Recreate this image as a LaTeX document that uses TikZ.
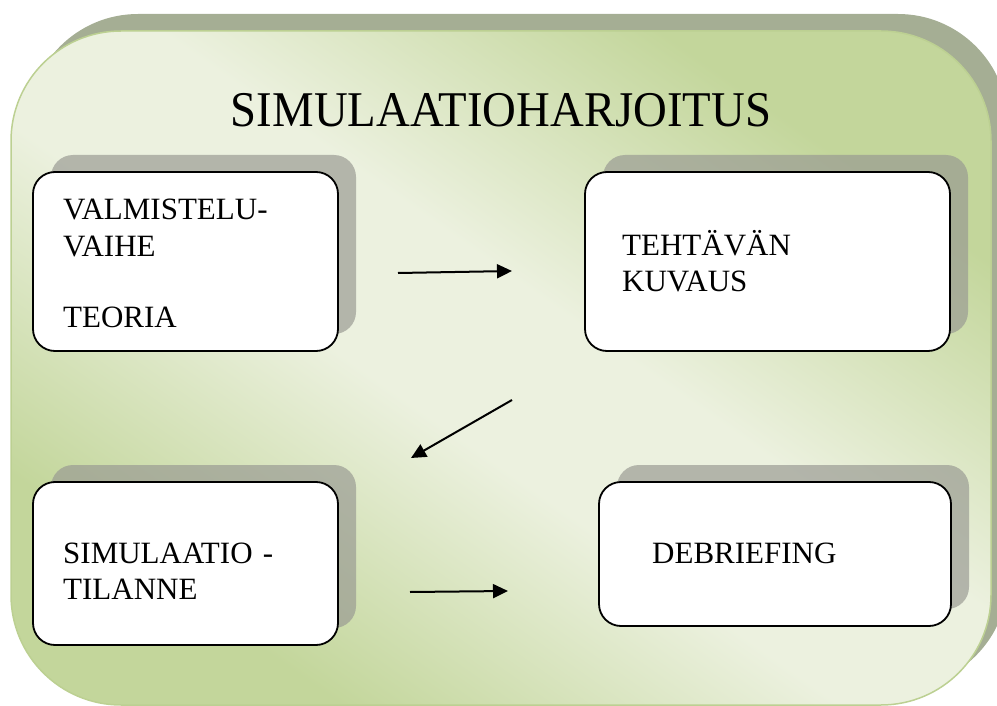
\documentclass[tikz,border=0pt]{standalone}
\usepackage{graphicx}
\usepackage{fontspec}
\setmainfont{Liberation Serif}
\usetikzlibrary{shadows,arrows.meta}
\definecolor{dkgreen}{RGB}{195,214,155}
\definecolor{ltgreen}{RGB}{236,241,223}
\definecolor{outershadow}{RGB}{165,174,148}
\definecolor{edgegreen}{RGB}{188,208,146}
\definecolor{boxshadow}{RGB}{152,153,146}
\pgfdeclareverticalshading{panelshade}{100bp}{color(0bp)=(dkgreen); color(27bp)=(dkgreen); color(45bp)=(ltgreen); color(55bp)=(ltgreen); color(73bp)=(dkgreen); color(100bp)=(dkgreen)}
\begin{document}
\begin{tikzpicture}[x=1pt,y=-1pt,
  panel/.style={rounded corners=110pt, minimum width=980pt, minimum height=674pt, inner sep=0pt,
    shading=panelshade, shading angle=-35, draw=edgegreen, line width=1.5pt,
    drop shadow={shadow xshift=17pt, shadow yshift=17pt, fill=outershadow, opacity=1}},
  stepbox/.style={draw=black, line width=1.8pt, fill=white, rounded corners=22pt, inner sep=0pt,
    drop shadow={shadow xshift=18pt, shadow yshift=17pt, fill=boxshadow, opacity=0.68}},
  boxtext/.style={anchor=base west, inner sep=0pt, align=left, text width=280pt,
    font=\fontsize{31}{36}\selectfont},
  flow/.style={line width=2pt, -{Triangle[length=15pt,width=14pt]}}]
\useasboundingbox (0,0) rectangle (997,706);
\clip (0,0) rectangle (997,706);
\node[panel] (frame) at (501,368) {};
\node[anchor=base, inner sep=0pt, font=\fontsize{50}{60}\selectfont] (title) at (501,127)
  {\scalebox{0.935}[1]{SIMULAATIOHARJOITUS}};
\node[stepbox, minimum width=305pt, minimum height=179pt] (b1) at (185.5,261.5) {};
\node[stepbox, minimum width=365pt, minimum height=179pt] (b2) at (767.5,261.5) {};
\node[stepbox, minimum width=305pt, minimum height=163pt] (b3) at (185.5,563.5) {};
\node[stepbox, minimum width=352pt, minimum height=144pt] (b4) at (775,554) {};
\node[boxtext] (t1) at (63,220) {VALMISTELU-\\VAIHE\\[36pt]TEORIA};
\node[boxtext] (t2) at (622,255) {TEHTÄVÄN\\KUVAUS};
\node[boxtext] (t3) at (63,563) {SIMULAATIO -\\TILANNE};
\node[boxtext] (t4) at (652,563) {DEBRIEFING};
\coordinate (a1s) at (398,273);
\coordinate (a1e) at (512,271);
\coordinate (a2s) at (512,400);
\coordinate (a2e) at (411,458);
\coordinate (a3s) at (410,592);
\coordinate (a3e) at (508,591);
\draw[flow] (a1s) -- (a1e);
\draw[flow] (a2s) -- (a2e);
\draw[flow] (a3s) -- (a3e);
\end{tikzpicture}
\end{document}
